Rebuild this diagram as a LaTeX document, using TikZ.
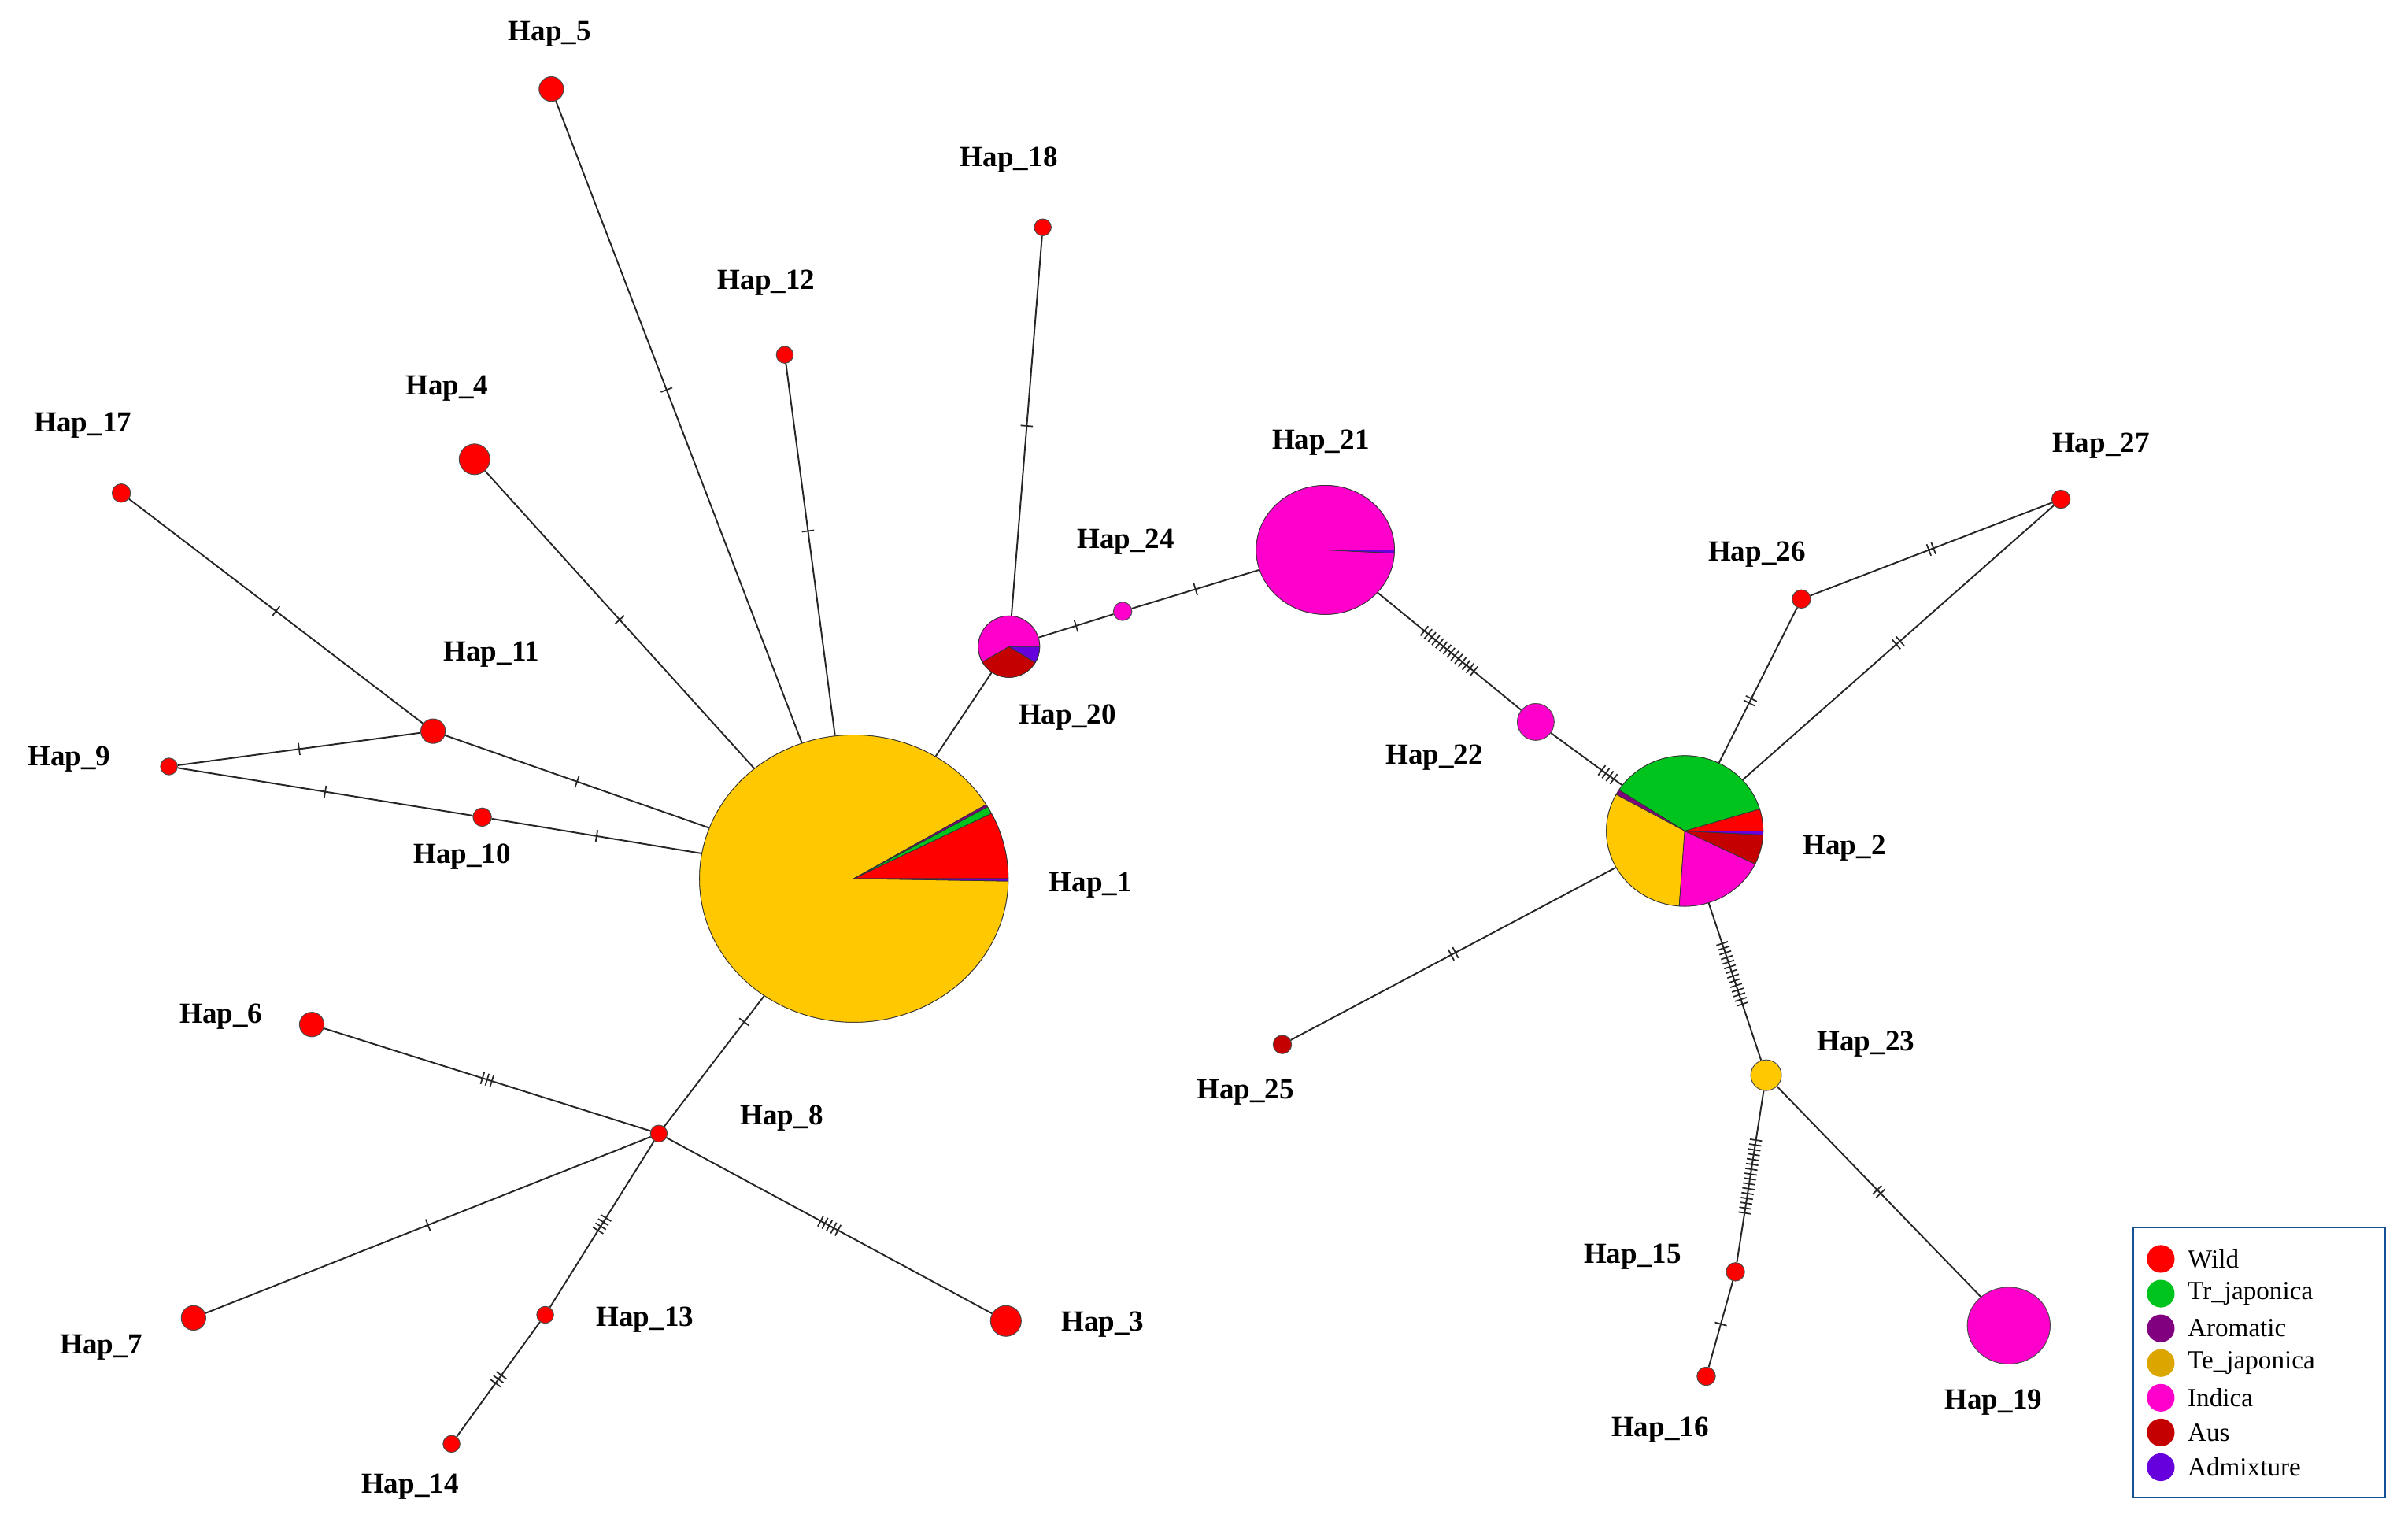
\documentclass[tikz,border=0pt]{standalone}
\usepackage{fontspec}
\setmainfont{Liberation Serif}
\usetikzlibrary{shapes.geometric,decorations.markings}
\definecolor{cWild}{RGB}{255,0,0}
\definecolor{cTr}{RGB}{0,196,30}
\definecolor{cAro}{RGB}{128,0,128}
\definecolor{cTe}{RGB}{255,200,0}
\definecolor{cTeL}{RGB}{220,166,0}
\definecolor{cInd}{RGB}{255,0,204}
\definecolor{cAus}{RGB}{196,0,0}
\definecolor{cAdm}{RGB}{102,0,221}
\definecolor{cBox}{RGB}{20,80,150}
\tikzset{
  hap/.style={circle,draw=black!70,line width=0.5pt,inner sep=0pt,minimum size=#1},
  wild/.style={hap=#1,fill=cWild},
  lab/.style={font=\bfseries\fontsize{19}{19}\selectfont},
  edge/.style={line width=1pt,black!85},
  tk/.style n args={2}{postaction={decorate,decoration={markings,mark=at position #2 with {\foreach \k in {1,...,#1}{\draw[line width=0.9pt] ({(\k-(#1+1)/2)*3.2pt},-4pt)--++(0,8pt);}}}}},
  legtxt/.style={anchor=west,font=\fontsize{17}{17}\selectfont}
}
% slice: cx cy rx ry a b color
\newcommand\slice[7]{\begin{scope}[shift={(#1,#2)},yscale=-1]
\filldraw[fill=#7,draw=black!80,line width=0.4pt] (0,0) -- (#5:#3 and #4) arc[start angle=#5,end angle=#6,x radius=#3,y radius=#4] -- cycle;
\end{scope}}
\begin{document}
\begin{tikzpicture}[x=1pt,y=-1pt]
\useasboundingbox (0,0) rectangle (1568,995);
% nodes
\node[hap=201pt,ellipse,minimum width=201pt,minimum height=187pt] (h1) at (556,572) {};
\node[wild=16pt] (h5) at (359,58) {};
\node[wild=11pt] (h18) at (679,148) {};
\node[wild=11pt] (h12) at (511,231) {};
\node[wild=20pt] (h4) at (309,299) {};
\node[wild=12pt] (h17) at (79,321) {};
\node[wild=16pt] (h11) at (282,476) {};
\node[wild=11pt] (h9) at (110,499) {};
\node[wild=12pt] (h10) at (314,532) {};
\node[wild=16pt] (h6) at (203,667) {};
\node[wild=11pt] (h8) at (429,738) {};
\node[wild=16pt] (h7) at (126,858) {};
\node[wild=11pt] (h13) at (355,856) {};
\node[wild=11pt] (h14) at (294,940) {};
\node[wild=20pt] (h3) at (655,860) {};
\node[hap=40pt] (h20) at (657,421) {};
\node[hap=12pt,fill=cInd] (h24) at (731,398) {};
\node[hap=90pt,ellipse,minimum width=90pt,minimum height=84pt] (h21) at (863,358) {};
\node[hap=24pt,fill=cInd] (h22) at (1000,470) {};
\node[hap=102pt,ellipse,minimum width=102pt,minimum height=98pt] (h2) at (1097,541) {};
\node[wild=12pt] (h26) at (1173,390) {};
\node[wild=12pt] (h27) at (1342,325) {};
\node[hap=12pt,fill=cAus] (h25) at (835,680) {};
\node[hap=20pt,fill=cTe] (h23) at (1150,700) {};
\node[wild=12pt] (h15) at (1130,828) {};
\node[wild=12pt] (h16) at (1111,896) {};
\node[hap=54pt,ellipse,minimum width=54pt,minimum height=50pt,fill=cInd] (h19) at (1308,863) {};
% edges
\draw[edge,tk={1}{0.55}] (h1) -- (h5);
\draw[edge,tk={1}{0.55}] (h1) -- (h12);
\draw[edge,tk={1}{0.5}] (h1) -- (h4);
\draw[edge,tk={1}{0.5}] (h1) -- (h11);
\draw[edge,tk={1}{0.5}] (h11) -- (h17);
\draw[edge,tk={1}{0.5}] (h11) -- (h9);
\draw[edge,tk={1}{0.5}] (h9) -- (h10);
\draw[edge,tk={1}{0.5}] (h10) -- (h1);
\draw[edge] (h1) -- (h20);
\draw[edge,tk={1}{0.5}] (h20) -- (h18);
\draw[edge,tk={1}{0.5}] (h20) -- (h24);
\draw[edge,tk={1}{0.5}] (h24) -- (h21);
\draw[edge,tk={14}{0.5}] (h21) -- (h22);
\draw[edge,tk={4}{0.8}] (h22) -- (h2);
\draw[edge,tk={2}{0.4}] (h2) -- (h26);
\draw[edge,tk={2}{0.5}] (h26) -- (h27);
\draw[edge,tk={2}{0.5}] (h2) -- (h27);
\draw[edge,tk={2}{0.5}] (h2) -- (h25);
\draw[edge,tk={14}{0.45}] (h2) -- (h23);
\draw[edge,tk={16}{0.5}] (h23) -- (h15);
\draw[edge,tk={1}{0.5}] (h15) -- (h16);
\draw[edge,tk={2}{0.5}] (h23) -- (h19);
\draw[edge,tk={1}{0.2}] (h1) -- (h8);
\draw[edge,tk={3}{0.5}] (h8) -- (h6);
\draw[edge,tk={1}{0.5}] (h8) -- (h7);
\draw[edge,tk={4}{0.5}] (h8) -- (h13);
\draw[edge,tk={3}{0.5}] (h13) -- (h14);
\draw[edge,tk={5}{0.5}] (h8) -- (h3);
% pies
\slice{556}{572}{100.5}{93.5}{31}{359}{cTe}
\slice{556}{572}{100.5}{93.5}{0}{27}{cWild}
\slice{556}{572}{100.5}{93.5}{27}{30}{cTr}
\slice{556}{572}{100.5}{93.5}{30}{31}{cAro}
\slice{556}{572}{100.5}{93.5}{359}{360}{cAdm}
\slice{657}{421}{20}{20}{0}{210}{cInd}
\slice{657}{421}{20}{20}{210}{329}{cAus}
\slice{657}{421}{20}{20}{329}{360}{cAdm}
\slice{863}{358}{45}{42}{0}{357}{cInd}
\slice{863}{358}{45}{42}{-3}{0}{cAdm}
\slice{1097}{541}{51}{49}{0}{17}{cWild}
\slice{1097}{541}{51}{49}{17}{147}{cTr}
\slice{1097}{541}{51}{49}{147}{151}{cAro}
\slice{1097}{541}{51}{49}{151}{266}{cTe}
\slice{1097}{541}{51}{49}{266}{334}{cInd}
\slice{1097}{541}{51}{49}{334}{357}{cAus}
\slice{1097}{541}{51}{49}{357}{360}{cAdm}
% labels
\node[lab] (l5) at (358,22) {Hap\_5};
\node[lab] (l18) at (657,104) {Hap\_18};
\node[lab] (l12) at (499,184) {Hap\_12};
\node[lab] (l4) at (291,253) {Hap\_4};
\node[lab] (l17) at (54,277) {Hap\_17};
\node[lab] (l11) at (320,426) {Hap\_11};
\node[lab] (l9) at (45,494) {Hap\_9};
\node[lab] (l10) at (301,558) {Hap\_10};
\node[lab] (l6) at (144,662) {Hap\_6};
\node[lab] (l8) at (509,728) {Hap\_8};
\node[lab] (l7) at (66,877) {Hap\_7};
\node[lab] (l13) at (420,859) {Hap\_13};
\node[lab] (l14) at (267,968) {Hap\_14};
\node[lab] (l3) at (718,862) {Hap\_3};
\node[lab] (l1) at (710,576) {Hap\_1};
\node[lab] (l20) at (695,467) {Hap\_20};
\node[lab] (l24) at (733,353) {Hap\_24};
\node[lab] (l21) at (860,288) {Hap\_21};
\node[lab] (l22) at (934,493) {Hap\_22};
\node[lab] (l2) at (1201,552) {Hap\_2};
\node[lab] (l26) at (1144,361) {Hap\_26};
\node[lab] (l27) at (1368,290) {Hap\_27};
\node[lab] (l25) at (811,711) {Hap\_25};
\node[lab] (l23) at (1215,680) {Hap\_23};
\node[lab] (l15) at (1063,818) {Hap\_15};
\node[lab] (l16) at (1081,931) {Hap\_16};
\node[lab] (l19) at (1298,913) {Hap\_19};
% legend
\draw[cBox,line width=1.2pt] (1389,799) rectangle (1553,975);
\foreach \c/\t [count=\i] in {cWild/Wild,cTr/Tr\_japonica,cAro/Aromatic,cTeL/Te\_japonica,cInd/Indica,cAus/Aus,cAdm/Admixture}{
  \fill[\c] (1407,{797+\i*22.6}) circle (9pt);
  \node[legtxt] at (1421,{797+\i*22.6}) {\t};
}
\end{tikzpicture}
\end{document}
